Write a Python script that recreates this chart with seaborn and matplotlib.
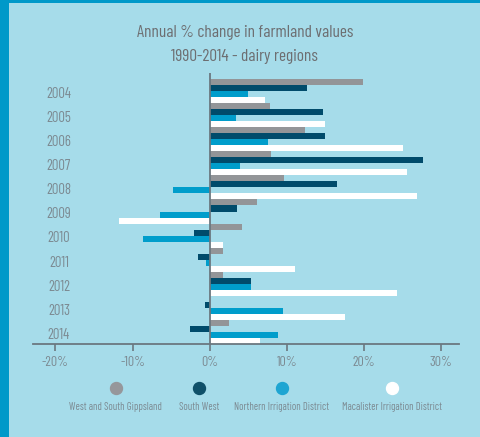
import numpy as np
import pandas as pd
import matplotlib.pyplot as plt
import seaborn as sns
from matplotlib.lines import Line2D
from matplotlib.patches import Rectangle
from matplotlib.transforms import blended_transform_factory

years = ['2004', '2005', '2006', '2007', '2008', '2009', '2010', '2011', '2012', '2013', '2014']
regions = ['West and South Gippsland', 'South West', 'Northern Irrigation District', 'Macalister Irrigation District']
gippsland = [19.9, 7.8, 12.4, 8.0, 9.6, 6.1, 4.2, 1.7, 1.7, 0.0, 2.5]
south_west = [12.6, 14.7, 15.0, 27.6, 16.5, 3.5, -2.0, -1.5, 5.4, -0.6, -2.5]
northern = [5.0, 3.4, 7.5, 3.9, -4.8, -6.5, -8.7, -0.5, 5.4, 9.5, 8.8]
macalister = [7.2, 15.0, 25.0, 25.5, 26.9, -11.8, 1.7, 11.0, 24.3, 17.5, 6.5]
xticks = [-20, -10, 0, 10, 20, 30]

colors = ['#939598', '#004b6b', '#009dcb', '#ffffff']
marker_colors = ['#96979b', '#0f5069', '#1ea5d2', '#ffffff']
bg = '#a6dcea'
border = '#0099c9'
grey_txt = '#7c8a92'

df = pd.DataFrame({
    'year': years * 4,
    'region': np.repeat(regions, len(years)),
    'change': gippsland + south_west + northern + macalister,
})

plt.rcParams['font.family'] = ['Barlow Condensed', 'DejaVu Sans']

fig = plt.figure(figsize=(4.81, 4.37), dpi=100, facecolor=border)
fig.patches.append(Rectangle((9 / 481, 0), 1, 1 - 3 / 437, transform=fig.transFigure,
                             facecolor=bg, edgecolor='none', zorder=-10))

ax = fig.add_axes([33 / 481, 1 - 344 / 437, (459 - 33) / 481, (344 - 73) / 437])
ax.set_facecolor('none')

sns.barplot(data=df, x='change', y='year', hue='region', order=years, hue_order=regions,
            palette=colors, width=1.0, orient='h', saturation=1, linewidth=0,
            legend=False, ax=ax)

ax.set_xlim(-22.9, 32.3)
ax.set_ylim(10.5, -0.75)
ax.axvline(0, color='#6b7880', lw=1.3, zorder=5)

for s in ['top', 'right', 'left']:
    ax.spines[s].set_visible(False)
ax.spines['bottom'].set_color('#6b7880')
ax.spines['bottom'].set_linewidth(1.3)

ax.set_xticks(xticks)
ax.set_xticklabels([f'{t}%' for t in xticks])
ax.tick_params(axis='x', colors='#6b7880', labelcolor=grey_txt, length=5, width=1.2,
               labelsize=10, pad=4)
ax.set_yticks([])
ax.set_xlabel('')
ax.set_ylabel('')

trans = blended_transform_factory(ax.transAxes, ax.transData)
for i, y in enumerate(years):
    ax.text(0.061, i + 0.12, y, transform=trans, ha='center', va='center',
            color=grey_txt, fontsize=10.5)

fig.text(0.509, 1 - 33 / 437, 'Annual % change in farmland values', ha='center', va='center',
         color='#6d6e71', fontsize=12.5)
fig.text(0.509, 1 - 57 / 437, '1990-2014 - dairy regions', ha='center', va='center',
         color='#6d6e71', fontsize=12.5)

leg_x = [115.7, 199, 282, 391.7]
for x, c, lab in zip(leg_x, marker_colors, regions):
    fig.add_artist(Line2D([x / 481], [1 - 387.7 / 437], marker='o', ms=8.6, color=c,
                          transform=fig.transFigure, linestyle='none'))
    fig.text(x / 481, 1 - 406.7 / 437, lab, ha='center', va='center',
             color=grey_txt, fontsize=7.6)

fig.savefig('out.png', dpi=100, facecolor=fig.get_facecolor())
